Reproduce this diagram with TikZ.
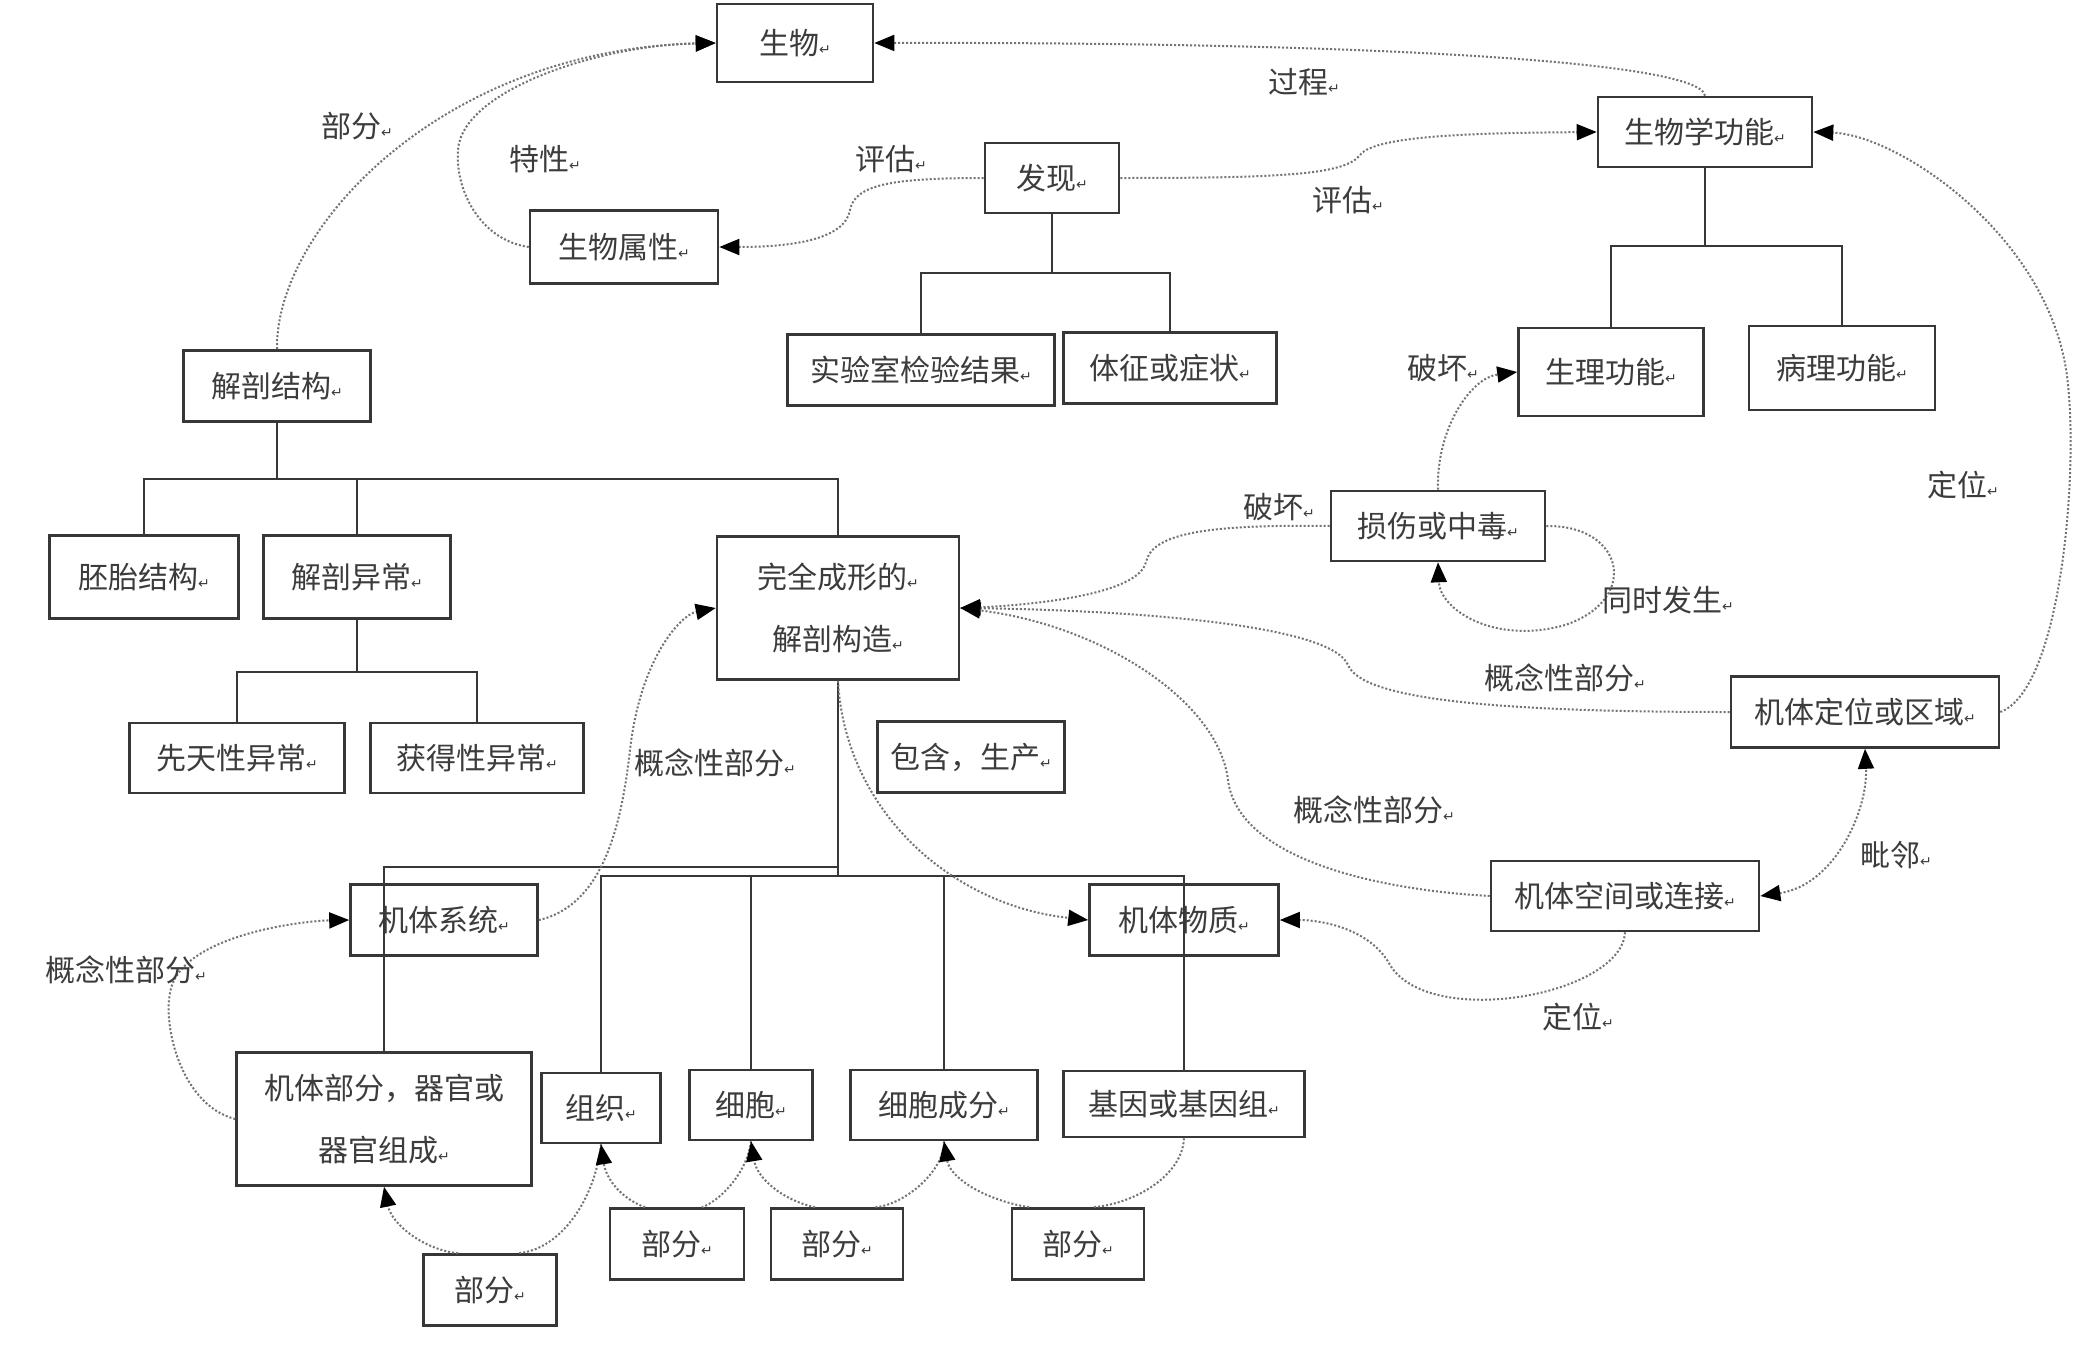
\documentclass[tikz,border=0pt]{standalone}
\usepackage{fontspec}
\setmainfont{Noto Sans CJK SC}
\newfontfamily\symf{DejaVu Sans}
\usetikzlibrary{arrows.meta,calc}
\definecolor{boxc}{RGB}{55,55,55}
\definecolor{txt}{RGB}{60,60,60}
\definecolor{linec}{RGB}{115,115,115}
\newcommand{\pmk}{{\symf\fontsize{7}{8}\selectfont ↵}}
\begin{document}
\begin{tikzpicture}[x=0.5pt,y=-0.5pt,
  box/.style={draw=boxc,line width=1.3pt,inner sep=0pt,text=txt,font=\fontsize{15}{18}\selectfont,align=center},
  wh/.style 2 args={minimum width=#1*0.5pt,minimum height=#2*0.5pt},
  lbl/.style={text=txt,font=\fontsize{15}{18}\selectfont,inner sep=0pt},
  tree/.style={draw=boxc,line width=1.3pt},
  conn/.style={draw=linec,line width=1pt,densely dotted},
  arr/.style={-{Triangle[length=10pt,width=8pt,color=black]}},
  biarr/.style={{Triangle[length=10pt,width=8pt,color=black]}-{Triangle[length=10pt,width=8pt,color=black]}}
]
\fill[white] (0,0) rectangle (2076,1344);
\useasboundingbox (0,0) rectangle (2076,1344);

% boxes
\node[box,wh={156}{78}] (shengwu) at (795,43) {生物\pmk};
\node[box,wh={214}{70}] (swxgn) at (1705,132) {生物学功能\pmk};
\node[box,wh={134}{70}] (faxian) at (1052,178) {发现\pmk};
\node[box,wh={188}{73}] (swsx) at (624,247) {生物属性\pmk};
\node[box,wh={267}{71}] (syjg) at (921,370) {实验室检验结果\pmk};
\node[box,wh={213}{71}] (tzzz) at (1170,368) {体征或症状\pmk};
\node[box,wh={185}{88}] (slgn) at (1611,372) {生理功能\pmk};
\node[box,wh={186}{84}] (blgn) at (1842,368) {病理功能\pmk};
\node[box,wh={187}{71}] (jpjg) at (277,386) {解剖结构\pmk};
\node[box,wh={189}{83}] (ptjg) at (144,577) {胚胎结构\pmk};
\node[box,wh={187}{83}] (jpyc) at (357,577) {解剖异常\pmk};
\node[box,wh={242}{143}] (wqcx) at (838,608) {完全成形的\pmk\\[13pt]解剖构造\pmk};
\node[box,wh={214}{70}] (sshzd) at (1438,526) {损伤或中毒\pmk};
\node[box,wh={215}{70}] (xtx) at (237,758) {先天性异常\pmk};
\node[box,wh={213}{70}] (hdx) at (477,758) {获得性异常\pmk};
\node[box,wh={187}{71}] (bhsc) at (971,757) {包含，生产\pmk};
\node[box,wh={268}{71}] (jtdw) at (1865,712) {机体定位或区域\pmk};
\node[box,wh={268}{70}] (jtkj) at (1625,896) {机体空间或连接\pmk};
\node[box,wh={189}{71}] (jtwz) at (1184,920) {机体物质\pmk};
\node[box,wh={187}{71}] (jtxt) at (444,920) {机体系统\pmk};
\node[box,wh={295}{133}] (jtbf) at (384,1119) {机体部分，器官或\\[13pt]器官组成\pmk};
\node[box,wh={119}{70}] (zz) at (601,1108) {组织\pmk};
\node[box,wh={123}{70}] (xb) at (751,1105) {细胞\pmk};
\node[box,wh={187}{70}] (xbcf) at (944,1105) {细胞成分\pmk};
\node[box,wh={241}{66}] (jy) at (1184,1104) {基因或基因组\pmk};
\node[box,wh={133}{71}] (bf1) at (490,1290) {部分\pmk};
\node[box,wh={134}{71}] (bf2) at (677,1244) {部分\pmk};
\node[box,wh={132}{71}] (bf3) at (837,1244) {部分\pmk};
\node[box,wh={132}{71}] (bf4) at (1078,1244) {部分\pmk};

% tree lines
\draw[tree] (jpjg.south) -- (jpjg.south |- 0,479);
\draw[tree] (ptjg.north) |- (wqcx.north |- 0,479) -- (wqcx.north);
\draw[tree] (jpyc.north) -- (jpyc.north |- 0,479);
\draw[tree] (jpyc.south) -- (jpyc.south |- 0,672);
\draw[tree] (xtx.north) |- (hdx.north |- 0,672) -- (hdx.north);
\draw[tree] (faxian.south) -- (faxian.south |- 0,273);
\draw[tree] (syjg.north) |- (tzzz.north |- 0,273) -- (tzzz.north);
\draw[tree] (swxgn.south) -- (swxgn.south |- 0,246);
\draw[tree] (slgn.north) |- (blgn.north |- 0,246) -- (blgn.north);
\draw[tree] (wqcx.south) -- (wqcx.south |- 0,876);
\draw[tree] (jtbf.north) |- (wqcx.south |- 0,867);
\draw[tree] (zz.north) |- (jy.north |- 0,876) -- (jy.north);
\draw[tree] (xb.north) -- (xb.north |- 0,876);
\draw[tree] (xbcf.north) -- (xbcf.north |- 0,876);

% curved connectors
\draw[conn,arr] (swxgn.north) .. controls (1700,60) and (1350,42) .. (shengwu.east);
\draw[conn,arr] (faxian.east) .. controls (1280,178) and (1345,175) .. (1360,155) .. controls (1375,135) and (1480,133) .. (swxgn.west);
\draw[conn,arr] (faxian.west) .. controls (890,178) and (855,185) .. (850,210) .. controls (845,240) and (790,247) .. (swsx.east);
\draw[conn,arr] (swsx.west) .. controls (480,240) and (455,190) .. (458,150) .. controls (462,90) and (600,45) .. (shengwu.west);
\draw[conn,arr] (jpjg.north) .. controls (275,230) and (440,50) .. (shengwu.west);
\draw[conn,arr] (sshzd.north) .. controls (1436,430) and (1470,378) .. (slgn.west);
\draw[conn,arr] (sshzd.west) .. controls (1200,524) and (1152,535) .. (1146,562) .. controls (1138,598) and (1010,606) .. (wqcx.east);
\draw[conn,arr] (sshzd.east) .. controls (1625,525) and (1640,600) .. (1565,625) .. controls (1495,645) and (1440,610) .. (sshzd.south);
\draw[conn,arr] (jtdw.west) .. controls (1500,712) and (1362,700) .. (1348,665) .. controls (1330,622) and (1110,610) .. (wqcx.east);
\draw[conn,arr] (jtkj.west) .. controls (1380,890) and (1238,860) .. (1228,780) .. controls (1218,700) and (1100,625) .. (wqcx.east);
\draw[conn,arr] (jtdw.east) .. controls (2060,690) and (2078,480) .. (2068,385) .. controls (2055,240) and (1900,135) .. (swxgn.east);
\draw[conn,biarr] (jtkj.east) .. controls (1835,885) and (1868,810) .. (jtdw.south);
\draw[conn,arr] (jtkj.south) .. controls (1622,995) and (1430,1030) .. (1390,965) .. controls (1370,928) and (1320,920) .. (jtwz.east);
\draw[conn,arr] (wqcx.south) .. controls (845,810) and (950,905) .. (jtwz.west);
\draw[conn,arr] (jtxt.east) .. controls (605,905) and (622,820) .. (630,750) .. controls (640,660) and (680,615) .. (wqcx.west);
\draw[conn,arr] (jtbf.west) .. controls (180,1105) and (160,1020) .. (172,985) .. controls (190,935) and (300,921) .. (jtxt.west);

% bottom part-of arcs
\draw[conn] (zz.south) .. controls (595,1200) and (560,1250) .. ($(bf1.north)+(28,0)$);
\draw[conn,arr] ($(bf1.north)+(-32,0)$) .. controls (425,1250) and (392,1225) .. (jtbf.south);
\draw[conn] (xb.south) .. controls (748,1170) and (722,1200) .. ($(bf2.north)+(25,0)$);
\draw[conn,arr] ($(bf2.north)+(-32,0)$) .. controls (620,1198) and (606,1178) .. (zz.south);
\draw[conn] (xbcf.south) .. controls (945,1170) and (905,1205) .. ($(bf3.north)+(38,0)$);
\draw[conn,arr] ($(bf3.north)+(-22,0)$) .. controls (782,1200) and (757,1178) .. (xb.south);
\draw[conn] (jy.south) .. controls (1182,1178) and (1130,1205) .. ($(bf4.north)+(14,0)$);
\draw[conn,arr] ($(bf4.north)+(-49,0)$) .. controls (985,1200) and (950,1178) .. (xbcf.south);

% labels
\node[lbl] (l1) at (357,126) {部分\pmk};
\node[lbl] (l2) at (545,159) {特性\pmk};
\node[lbl] (l3) at (891,159) {评估\pmk};
\node[lbl] (l4) at (1304,82) {过程\pmk};
\node[lbl] (l5) at (1348,200) {评估\pmk};
\node[lbl] (l6) at (1443,368) {破坏\pmk};
\node[lbl] (l7) at (1279,507) {破坏\pmk};
\node[lbl] (l8) at (1668,600) {同时发生\pmk};
\node[lbl] (l9) at (1963,485) {定位\pmk};
\node[lbl] (l10) at (1565,678) {概念性部分\pmk};
\node[lbl] (l11) at (1374,810) {概念性部分\pmk};
\node[lbl] (l12) at (1896,855) {毗邻\pmk};
\node[lbl] (l13) at (1578,1017) {定位\pmk};
\node[lbl] (l14) at (715,763) {概念性部分\pmk};
\node[lbl] (l15) at (126,970) {概念性部分\pmk};
\end{tikzpicture}
\end{document}
